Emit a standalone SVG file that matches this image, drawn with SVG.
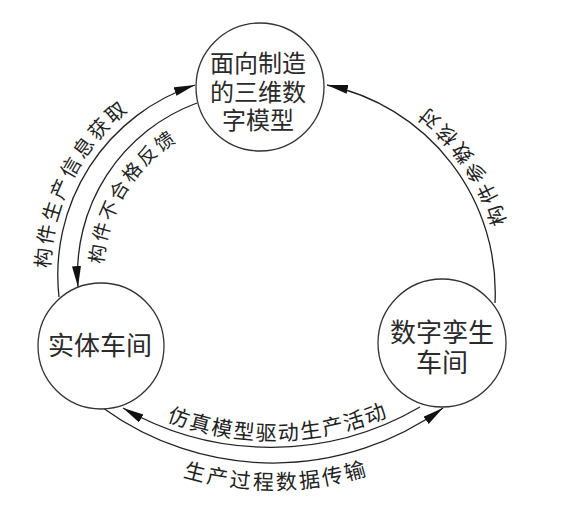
<svg xmlns="http://www.w3.org/2000/svg" width="561" height="506" viewBox="0 0 561 506">
  <style>
    .node circle { fill: #ffffff; stroke: #333333; stroke-width: 1.3; }
    .ntext { font-family: "Noto Sans CJK SC", "Noto Sans", sans-serif; fill: #2a2a2a; text-anchor: middle; dominant-baseline: central; }
    .edge { fill: none; stroke: #222222; stroke-width: 1.3; }
    .elabel { font-family: "Noto Sans CJK SC", "Noto Sans", sans-serif; font-size: 20px; fill: #222222; }
  </style>
  <defs>
    <marker id="arrow" markerUnits="userSpaceOnUse" markerWidth="22" markerHeight="10" refX="21" refY="4.5" orient="auto">
      <path d="M0,0 L21,4.5 L0,9 z" fill="#111111"/>
    </marker>
    <path id="p1" d="M50.3,285.9 A209,209 0 0,1 144.4,99.2"/>
    <path id="p2" d="M103,270.6 A156,156 0 0,1 184,137.2"/>
    <path id="p3" d="M513.2,250.2 A234,234 0 0,0 398.9,88.7"/>
    <path id="p4" d="M110.9,391.6 A290,290 0 0,0 443.5,384.4"/>
    <path id="p5" d="M117.6,448.8 A316.6,316.6 0 0,0 434.2,445.5"/>
  </defs>

  <g id="connectors">
    <path class="edge" d="M59,297 A200,200 0 0,1 195,85" marker-end="url(#arrow)"/>
    <path class="edge" d="M197,103 A182,182 0 0,0 78,287" marker-end="url(#arrow)"/>
    <path class="edge" d="M495,303 A212,212 0 0,0 327,85" marker-end="url(#arrow)"/>
    <path class="edge" d="M103,408 A290,290 0 0,0 443,408" marker-end="url(#arrow)"/>
    <path class="edge" d="M420,407 A297,297 0 0,1 123,408" marker-end="url(#arrow)"/>
    <text class="elabel" letter-spacing="3"><textPath href="#p1" startOffset="50%" text-anchor="middle">构件生产信息获取</textPath></text>
    <text class="elabel" style="font-size:19px" letter-spacing="2.5"><textPath href="#p2" startOffset="50%" text-anchor="middle">构件不合格反馈</textPath></text>
    <text class="elabel" letter-spacing="4.5"><textPath href="#p3" startOffset="50%" text-anchor="middle">构件参数核对</textPath></text>
    <text class="elabel" style="font-size:21px" letter-spacing="1.8"><textPath href="#p4" startOffset="50%" text-anchor="middle">仿真模型驱动生产活动</textPath></text>
    <text class="elabel" style="font-size:21px" letter-spacing="2.7"><textPath href="#p5" startOffset="50%" text-anchor="middle">生产过程数据传输</textPath></text>
  </g>

  <g id="node-model" class="node">
    <circle cx="260" cy="87" r="64"/>
    <text class="ntext" font-size="24" x="258" y="61">面向制造</text>
    <text class="ntext" font-size="24" x="258" y="90">的三维数</text>
    <text class="ntext" font-size="24" x="258" y="118">字模型</text>
  </g>
  <g id="node-physical" class="node">
    <circle cx="101" cy="346" r="63"/>
    <text class="ntext" font-size="26" x="100" y="343">实体车间</text>
  </g>
  <g id="node-twin" class="node">
    <circle cx="442" cy="343" r="64"/>
    <text class="ntext" font-size="26" x="442" y="330">数字孪生</text>
    <text class="ntext" font-size="26" x="442" y="360">车间</text>
  </g>
</svg>
